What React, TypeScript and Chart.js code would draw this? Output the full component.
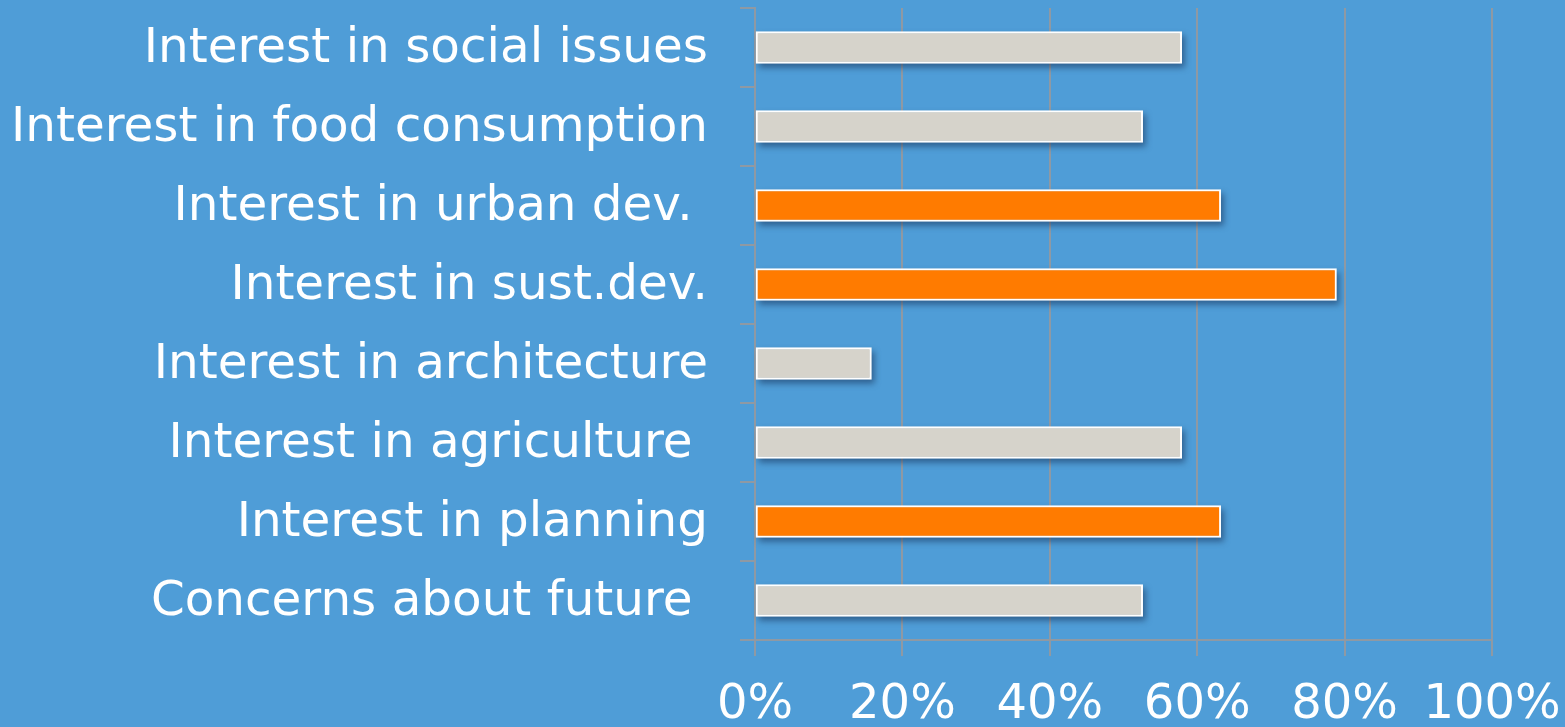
import React, { useEffect, useRef } from "react";
import { Chart, registerables } from "chart.js";

Chart.register(...registerables);

const categories = [
  "Interest in social issues",
  "Interest in food consumption",
  "Interest in urban dev. ",
  "Interest in sust.dev.",
  "Interest in architecture",
  "Interest in agriculture ",
  "Interest in planning",
  "Concerns about future ",
];
const values = [57.9, 52.6, 63.2, 78.9, 15.8, 57.9, 63.2, 52.6];
const highlighted = [false, false, true, true, false, false, true, false];
const xTicks = [0, 20, 40, 60, 80, 100];

const BG = "#4f9dd7";
const GREY_BAR = "#d6d3cb";
const ORANGE = "#ff7b00";
const GRID = "#8f99a3";
const FONT = "'DejaVu Sans', Verdana, sans-serif";

const shadowPlugin = {
  id: "barShadow",
  beforeDatasetsDraw(chart: any) {
    const ctx = chart.ctx;
    const meta = chart.getDatasetMeta(0);
    ctx.save();
    ctx.filter = "blur(3px)";
    ctx.fillStyle = "rgba(25,55,95,0.6)";
    meta.data.forEach((el: any) => {
      const p = el.getProps(["x", "y", "base", "height"], true);
      const left = Math.min(p.x, p.base);
      const w = Math.abs(p.x - p.base);
      ctx.fillRect(left + 3, p.y - p.height / 2 + 4, w, p.height);
    });
    ctx.restore();
  },
};

export default function App() {
  const ref = useRef<HTMLCanvasElement | null>(null);

  useEffect(() => {
    document.body.style.margin = "0";
    const canvas = ref.current;
    if (!canvas) return;
    const chart = new Chart(canvas, {
      type: "bar",
      data: {
        labels: categories,
        datasets: [
          {
            data: values,
            backgroundColor: highlighted.map((h) => (h ? ORANGE : GREY_BAR)),
            borderColor: "#ffffff",
            borderWidth: 2,
            borderSkipped: false,
            barThickness: 32,
          },
        ],
      },
      options: {
        indexAxis: "y",
        responsive: false,
        animation: false,
        events: [],
        layout: { padding: { top: 8, right: 73, left: 0, bottom: 0 } },
        plugins: {
          legend: { display: false },
          tooltip: { enabled: false },
          title: { display: false },
        },
        scales: {
          x: {
            type: "linear",
            position: "bottom",
            min: 0,
            max: 100,
            afterBuildTicks: (s: any) => {
              s.ticks = xTicks.map((v) => ({ value: v }));
            },
            afterFit: (s: any) => {
              s.height = 87;
              s.paddingLeft = 0;
              s.paddingRight = 0;
            },
            ticks: {
              color: "#ffffff",
              font: { family: FONT, size: 48 },
              padding: 21,
              maxRotation: 0,
              autoSkip: false,
              callback: (v: any) => v + "%",
            },
            grid: { color: GRID, lineWidth: 2, tickLength: 16 },
            border: { color: GRID, width: 2 },
          },
          y: {
            type: "category",
            position: "left",
            afterFit: (s: any) => {
              s.width = 755;
              s.paddingTop = 0;
              s.paddingBottom = 0;
            },
            ticks: {
              color: "#ffffff",
              font: { family: FONT, size: 48.4 },
              padding: 32,
              labelOffset: 2,
              autoSkip: false,
            },
            grid: {
              drawOnChartArea: false,
              tickLength: 15,
              color: GRID,
              lineWidth: 2,
              offset: true,
            },
            border: { color: GRID, width: 2 },
          },
        },
      },
      plugins: [shadowPlugin],
    } as any);
    return () => chart.destroy();
  }, []);

  return (
    <div
      style={{
        position: "absolute",
        left: 0,
        top: 0,
        width: 1565,
        height: 727,
        background: BG,
        overflow: "hidden",
      }}
    >
      <canvas ref={ref} width={1565} height={727} style={{ display: "block" }} />
    </div>
  );
}
